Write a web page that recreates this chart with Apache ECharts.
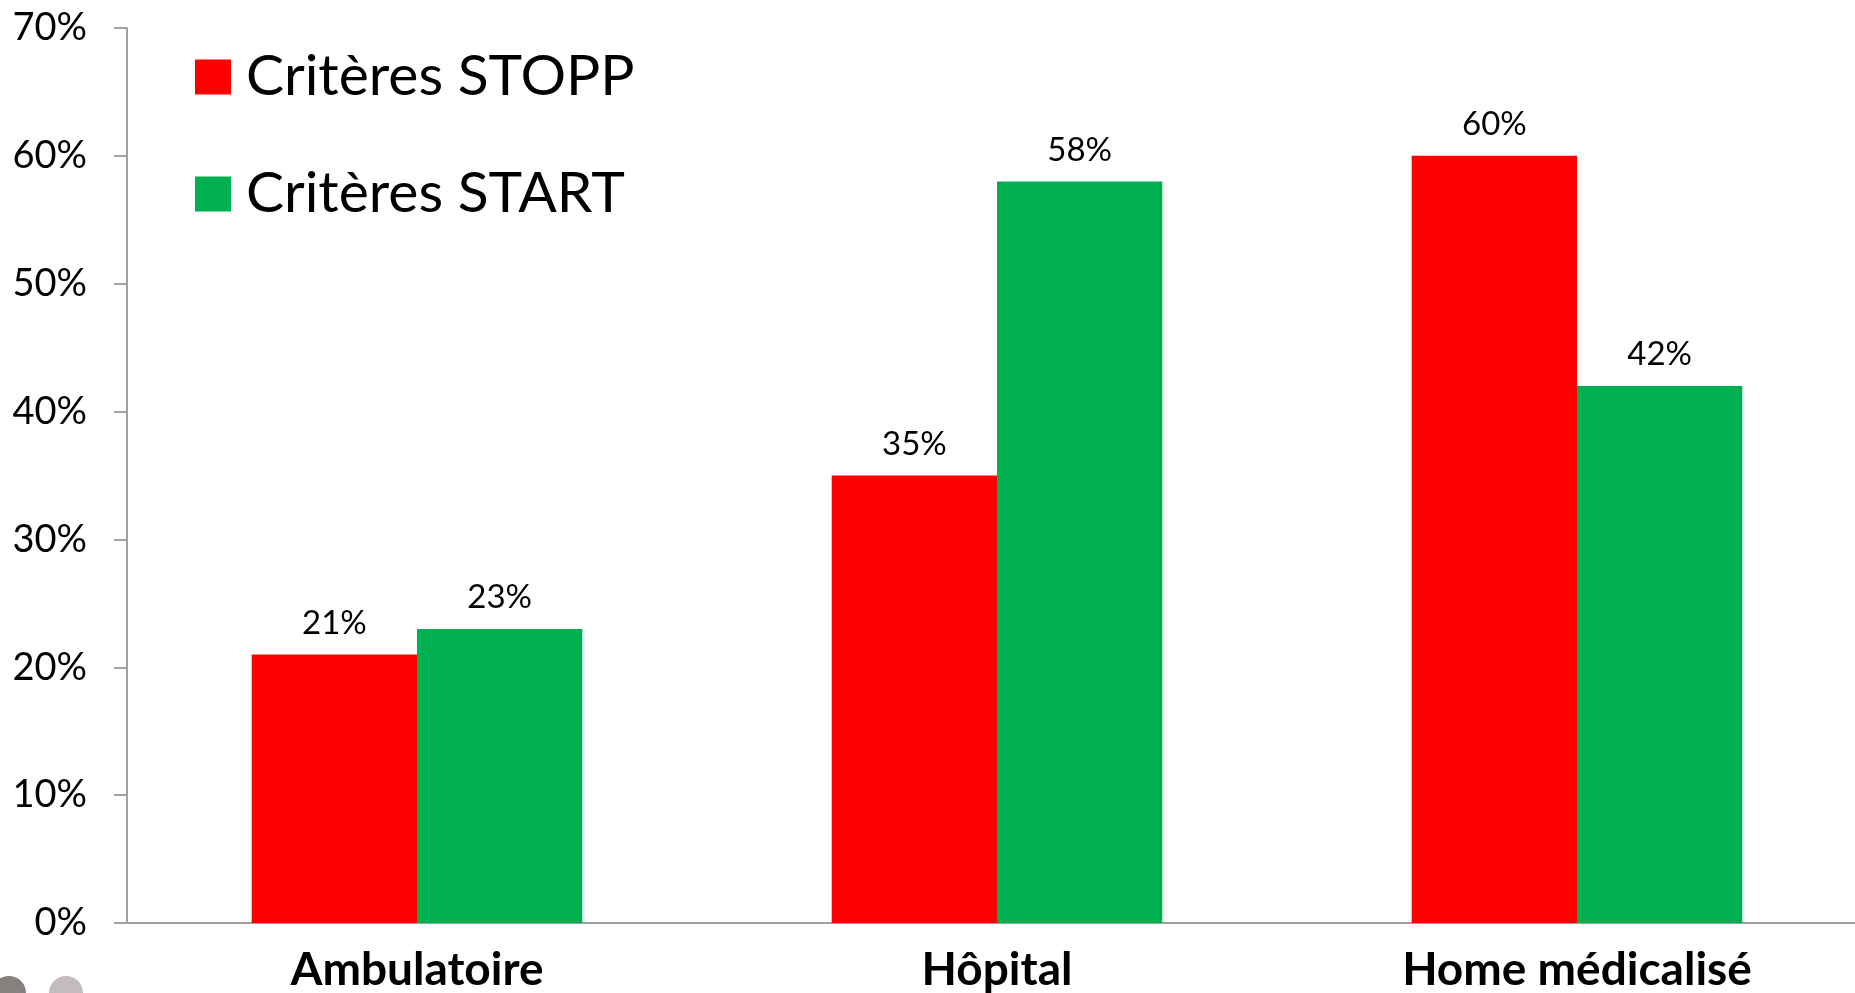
<!DOCTYPE html>
<html>
<head>
<meta charset="utf-8">
<style>
  html, body { margin: 0; padding: 0; background: #ffffff; overflow: hidden; }
  /* the plot runs a little past the right edge of the window, like the slide it comes from */
  #chart { width: 1880px; height: 993px; }
</style>
<script src="https://cdn.jsdelivr.net/npm/echarts@6/dist/echarts.min.js"></script>
</head>
<body>
<div id="chart"></div>
<script>
// Settings of care and share of patients meeting each criteria set (%)
const categories = ['Ambulatoire', 'Hôpital', 'Home médicalisé'];
const stoppValues = [21, 35, 60];
const startValues = [23, 58, 42];
const seriesNames = ['Critères STOPP', 'Critères START'];
const yTicks = { min: 0, max: 70, interval: 10 };

const FONT = 'Lato, "Open Sans", sans-serif';
const RED = '#ff0000';
const GREEN = '#00b050';
const AXIS_GREY = '#a0a0a0';

const chart = echarts.init(document.getElementById('chart'), null, { renderer: 'canvas' });

const labelStyle = {
  show: true,
  position: 'top',
  distance: 15,
  formatter: '{c}%',
  color: '#000000',
  fontFamily: FONT,
  fontSize: 33
};

chart.setOption({
  animation: false,
  backgroundColor: '#ffffff',
  legend: {
    orient: 'vertical',
    left: 195,
    top: 47,
    padding: 0,
    itemWidth: 36,
    itemHeight: 35,
    itemGap: 57,
    icon: 'rect',
    data: seriesNames,
    textStyle: {
      fontFamily: FONT,
      fontSize: 57,
      lineHeight: 60,
      color: '#000000',
      padding: [0, 0, 0, 10]
    }
  },
  grid: {
    left: 127,
    top: 28,
    width: 1740,
    height: 896,
    containLabel: false
  },
  xAxis: {
    type: 'category',
    data: categories,
    axisLine: { show: true, lineStyle: { color: AXIS_GREY, width: 2 } },
    axisTick: { show: false },
    axisLabel: {
      color: '#000000',
      fontFamily: FONT,
      fontWeight: 'bold',
      fontSize: 46,
      margin: 24
    }
  },
  yAxis: {
    type: 'value',
    min: yTicks.min,
    max: yTicks.max,
    interval: yTicks.interval,
    splitLine: { show: false },
    axisLine: { show: true, lineStyle: { color: AXIS_GREY, width: 2 } },
    axisTick: { show: true, inside: false, length: 13, lineStyle: { color: AXIS_GREY, width: 2 } },
    axisLabel: {
      formatter: '{value}%',
      color: '#000000',
      fontFamily: FONT,
      fontSize: 38,
      margin: 40
    }
  },
  series: [
    {
      name: seriesNames[0],
      type: 'bar',
      data: stoppValues,
      barGap: '0%',
      barCategoryGap: '43%',
      itemStyle: { color: RED },
      label: labelStyle
    },
    {
      name: seriesNames[1],
      type: 'bar',
      data: startValues,
      barGap: '0%',
      barCategoryGap: '43%',
      itemStyle: { color: GREEN },
      label: labelStyle
    }
  ],
  graphic: [
    // slide ornament: two grey discs clipped by the bottom edge
    { type: 'circle', shape: { cx: 9, cy: 993, r: 17 }, style: { fill: '#86817f' }, silent: true },
    { type: 'circle', shape: { cx: 66, cy: 993, r: 17 }, style: { fill: '#c4bcbc' }, silent: true }
  ]
});
</script>
</body>
</html>
